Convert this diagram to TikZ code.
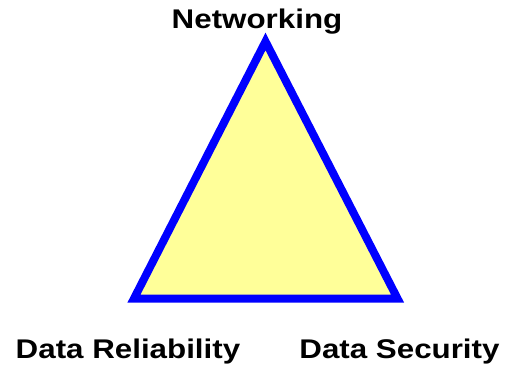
\documentclass[tikz,border=0pt]{standalone}
\usepackage{fontspec}
\setmainfont{Liberation Sans}[FakeStretch=1.16]
\definecolor{triyellow}{HTML}{FFFF99}
\definecolor{triblue}{HTML}{0000FF}
\begin{document}
\begin{tikzpicture}[x=1pt,y=-1pt,
  lab/.style={anchor=base,inner sep=0pt,font=\fontsize{27}{32}\selectfont\bfseries}]
\useasboundingbox (0,0) rectangle (513,369);
\coordinate (top) at (265.5,41.5);
\coordinate (bl) at (134,298.5);
\coordinate (br) at (397.5,298.5);
\draw[triblue,fill=triyellow,line width=8pt,miter limit=10] (top) -- (bl) -- (br) -- cycle;
\node[lab] (net) at (257,29) {Networking};
\node[lab] (rel) at (128,358) {Data Reliability};
\node[lab] (sec) at (399.5,358) {Data Security};
\end{tikzpicture}
\end{document}
